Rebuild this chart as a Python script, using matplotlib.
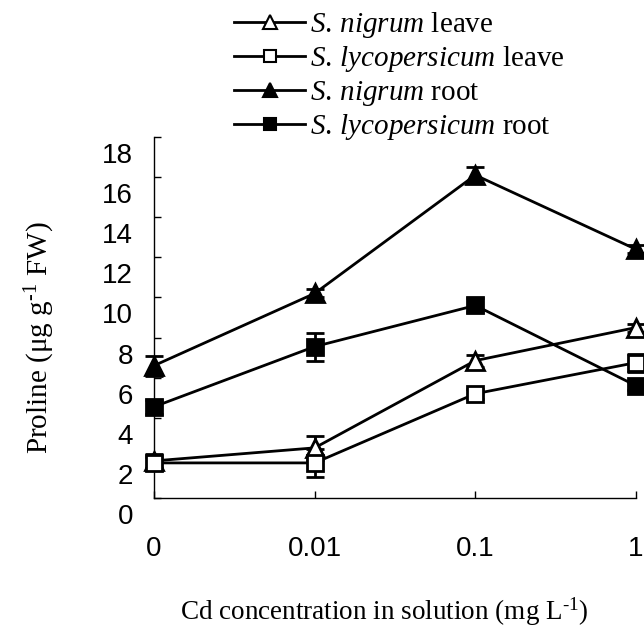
import numpy as np
import matplotlib
matplotlib.use("Agg")
import matplotlib.pyplot as plt
from matplotlib.transforms import ScaledTranslation

plt.rcParams['mathtext.fontset'] = 'custom'
plt.rcParams['mathtext.rm'] = 'Liberation Serif'
plt.rcParams['mathtext.it'] = 'Liberation Serif:italic'

# data
cd_levels = ["0", "0.01", "0.1", "1"]
nigrum_leave = [1.85, 2.5, 6.85, 8.5]
nigrum_leave_err = [0.35, 0.6, 0.3, 0.2]
lyco_leave = [1.75, 1.75, 5.2, 6.75]
lyco_leave_err = [0.3, 0.7, 0.25, 0.45]
nigrum_root = [6.6, 10.2, 16.1, 12.4]
nigrum_root_err = [0.5, 0.2, 0.4, 0.2]
lyco_root = [4.55, 7.55, 9.6, 5.6]
lyco_root_err = [0.35, 0.7, 0.35, 0.2]
yticks = [0, 2, 4, 6, 8, 10, 12, 14, 16, 18]

W, H = 644, 628
fig = plt.figure(figsize=(W/100, H/100), dpi=100)
ax = fig.add_axes([154/W, 1-498/H, (636-154)/W, (498-137)/H])

x = np.arange(len(cd_levels))
series = [
    (nigrum_leave, nigrum_leave_err, '^', 'white', r'$\mathit{S.\,nigrum}$ leave'),
    (lyco_leave, lyco_leave_err, 's', 'white', r'$\mathit{S.\,lycopersicum}$ leave'),
    (nigrum_root, nigrum_root_err, '^', 'black', r'$\mathit{S.\,nigrum}$ root'),
    (lyco_root, lyco_root_err, 's', 'black', r'$\mathit{S.\,lycopersicum}$ root'),
]
handles = []
for vals, err, m, fc, lab in series:
    ms = 13 if m == '^' else 11
    eb = ax.errorbar(x, vals, yerr=err, color='black', lw=2, marker=m, ms=ms,
                     mfc=fc, mec='black', mew=2, capsize=6.5, capthick=2,
                     elinewidth=2, clip_on=False, zorder=3)
    for art in eb.get_children():
        art.set_clip_on(False)
    h, = ax.plot([], [], color='black', lw=2, marker=m, ms=ms*0.75, mfc=fc,
                 mec='black', mew=1.5, label=lab)
    handles.append(h)

ax.set_xlim(0, 3)
ax.set_ylim(0, 18)
ax.set_xticks(x, labels=cd_levels)
ax.set_yticks(yticks)
for s in ['top', 'right']:
    ax.spines[s].set_visible(False)
for s in ['left', 'bottom']:
    ax.spines[s].set_linewidth(1)
ax.tick_params(axis='both', direction='in', length=5, width=1,
               labelsize=20, labelfontfamily='Liberation Sans')
ax.tick_params(axis='x', pad=27)
ax.tick_params(axis='y', pad=15)
# y tick labels sit lower than their ticks in the original
off = ScaledTranslation(0, -0.16, fig.dpi_scale_trans)
for lbl in ax.get_yticklabels():
    lbl.set_transform(lbl.get_transform() + off)

fig.text(40/W, 1-338/H, r'Proline (μg g$^{\text{-1}}$ FW)', rotation=90,
         family='Liberation Serif', fontsize=21, ha='center', va='center')
fig.text(384/W, 1-612/H, r'Cd concentration in solution (mg L$^{\text{-1}}$)',
         family='Liberation Serif', fontsize=19.5, ha='center', va='center')

fig.legend(handles=handles, loc='upper left', bbox_to_anchor=(234/W, 1-10/H),
           frameon=False, borderpad=0, borderaxespad=0, handlelength=2.45,
           handletextpad=0.15, labelspacing=0.15,
           prop={'family': 'Liberation Serif', 'size': 21})

fig.savefig('out.png', dpi=100)
